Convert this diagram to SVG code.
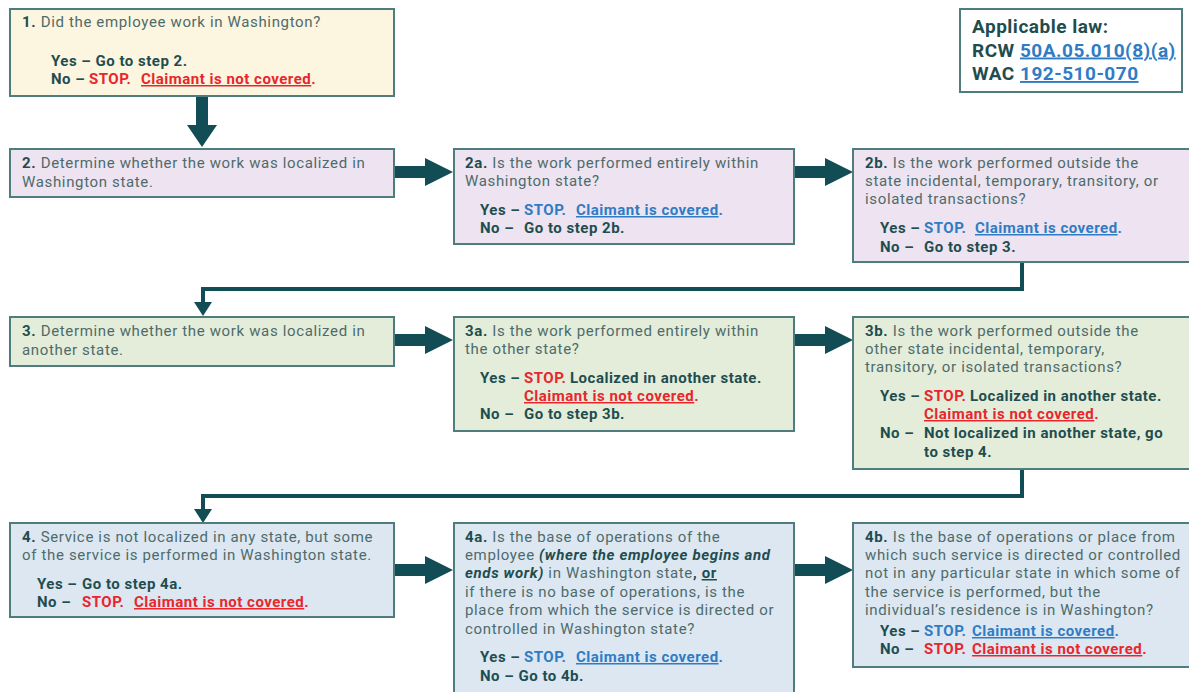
<svg xmlns="http://www.w3.org/2000/svg" width="1189" height="692" viewBox="0 0 1189 692">
<style>
text{font-family:Roboto,"Liberation Sans",sans-serif;font-size:15px;letter-spacing:0.65px;fill:#4e6b6b}
.b{font-weight:bold;fill:#1f4d4f}
.yn{font-weight:bold;letter-spacing:0.5px;fill:#1f4d4f}
.red{font-weight:bold;letter-spacing:0.5px;fill:#e8262d}
.blue{font-weight:bold;letter-spacing:0.5px;fill:#2f7cc4}
.u{text-decoration:underline}
.bi{font-weight:bold;font-style:italic;fill:#1f4d4f}
.box{stroke:#4f7c7c;stroke-width:2}
.y{fill:#fcf5df}.p{fill:#ede3f1}.g{fill:#e3edda}.l{fill:#dce7f2}.w{fill:#ffffff}
.arr{fill:#124c54}
.con{fill:none;stroke:#124c54;stroke-width:4}
.law{font-size:19px;font-weight:bold;letter-spacing:0.5px;fill:#1f4d4f}
.lawl{font-size:19px;font-weight:bold;fill:#2f7cc4;text-decoration:underline}
</style>
<g id="connectors">
<path class="arr" d="M196,96 H208 V125 H217 L202,147 L187,125 H196 Z"/>
<path class="arr" d="M394,166 H425 V158 L453,172 L425,186 V178 H394 Z"/>
<path class="arr" d="M794,166 H825 V158 L853,172 L825,186 V178 H794 Z"/>
<path class="arr" d="M394,334 H425 V326 L453,340 L425,354 V346 H394 Z"/>
<path class="arr" d="M794,334 H825 V326 L853,340 L825,354 V346 H794 Z"/>
<path class="arr" d="M394,564 H425 V556 L453,570 L425,584 V576 H394 Z"/>
<path class="arr" d="M794,564 H825 V556 L853,570 L825,584 V576 H794 Z"/>
<path class="con" d="M1022,262 V289 H203 V302"/>
<path class="arr" d="M194,302 H212 L203,316 Z"/>
<path class="con" d="M1022,469 V496 H203 V509"/>
<path class="arr" d="M194,509 H212 L203,523 Z"/>
</g>
<g id="law">
<rect class="box w" x="960" y="9" width="222" height="83"/>
<text x="972" y="33" class="law">Applicable law:</text>
<text x="972" y="56.5" class="law">RCW <tspan class="lawl">50A.05.010(8)(a)</tspan></text>
<text x="972" y="80" class="law">WAC <tspan class="lawl">192-510-070</tspan></text>
</g>
<g id="step1">
<rect class="box y" x="10" y="9" width="384" height="87"/>
<text x="22" y="27"><tspan class="b">1.</tspan>  Did the employee work in Washington?</text>
<text x="51" y="66" class="yn">Yes – Go to step 2.</text>
<text x="51" y="84" class="yn">No – <tspan x="89" class="red">STOP.</tspan><tspan x="141" class="red u">Claimant is not covered</tspan><tspan class="red">.</tspan></text>
</g>
<g id="step2">
<rect class="box p" x="10" y="149" width="384" height="48"/>
<text x="22" y="168"><tspan class="b">2.</tspan>  Determine whether the work was localized in</text>
<text x="22" y="186.5">Washington state.</text>
</g>
<g id="step2a">
<rect class="box p" x="454" y="149" width="340" height="95"/>
<text x="465" y="168"><tspan class="b">2a.</tspan> Is the work performed entirely within</text>
<text x="465" y="186">Washington state?</text>
<text x="480" y="215" class="yn">Yes – <tspan x="524" class="blue">STOP.</tspan><tspan x="576" class="blue u">Claimant is covered</tspan><tspan class="blue">.</tspan></text>
<text x="480" y="233" class="yn">No – <tspan x="524">Go to step 2b.</tspan></text>
</g>
<g id="step2b">
<rect class="box p" x="853" y="149" width="340" height="113"/>
<text x="865" y="168"><tspan class="b">2b.</tspan>  Is the work performed outside the</text>
<text x="865" y="186">state incidental, temporary, transitory, or</text>
<text x="865" y="204">isolated transactions?</text>
<text x="880" y="233" class="yn">Yes – <tspan x="924" class="blue">STOP.</tspan><tspan x="975" class="blue u">Claimant is covered</tspan><tspan class="blue">.</tspan></text>
<text x="880" y="252" class="yn">No – <tspan x="924">Go to step 3.</tspan></text>
</g>
<g id="step3">
<rect class="box g" x="10" y="317" width="384" height="49"/>
<text x="22" y="336"><tspan class="b">3.</tspan>  Determine whether the work was localized in</text>
<text x="22" y="354.5">another state.</text>
</g>
<g id="step3a">
<rect class="box g" x="454" y="317" width="340" height="114"/>
<text x="465" y="336"><tspan class="b">3a.</tspan>  Is the work performed entirely within</text>
<text x="465" y="354">the other state?</text>
<text x="480" y="383" class="yn">Yes – <tspan x="524" class="red">STOP.</tspan><tspan x="570">Localized in another state.</tspan></text>
<text x="524" y="401" class="red"><tspan class="u">Claimant is not covered</tspan>.</text>
<text x="480" y="419" class="yn">No – <tspan x="524">Go to step 3b.</tspan></text>
</g>
<g id="step3b">
<rect class="box g" x="853" y="317" width="340" height="152"/>
<text x="865" y="336"><tspan class="b">3b.</tspan>  Is the work performed outside the</text>
<text x="865" y="354">other state incidental, temporary,</text>
<text x="865" y="372">transitory, or isolated transactions?</text>
<text x="880" y="401" class="yn">Yes – <tspan x="924" class="red">STOP.</tspan><tspan x="970">Localized in another state.</tspan></text>
<text x="924" y="419" class="red"><tspan class="u">Claimant is not covered</tspan>.</text>
<text x="880" y="438" class="yn">No – <tspan x="924">Not localized in another state, go</tspan></text>
<text x="924" y="457" class="yn">to step 4.</text>
</g>
<g id="step4">
<rect class="box l" x="10" y="523" width="384" height="94"/>
<text x="22" y="542"><tspan class="b">4.</tspan>  Service is not localized in any state, but some</text>
<text x="22" y="560">of the service is performed in Washington state.</text>
<text x="37" y="589" class="yn">Yes – <tspan x="82">Go to step 4a.</tspan></text>
<text x="37" y="607" class="yn">No – <tspan x="82" class="red">STOP.</tspan><tspan x="134" class="red u">Claimant is not covered</tspan><tspan class="red">.</tspan></text>
</g>
<g id="step4a">
<rect class="box l" x="454" y="523" width="340" height="175"/>
<text x="465" y="542"><tspan class="b">4a.</tspan>  Is the base of operations of the</text>
<text x="465" y="560">employee <tspan class="bi">(where the employee begins and</tspan></text>
<text x="465" y="578"><tspan class="bi">ends work)</tspan> in Washington state<tspan class="b">, </tspan><tspan class="b u">or</tspan></text>
<text x="465" y="597">if there is no base of operations, is the</text>
<text x="465" y="615">place from which the service is directed or</text>
<text x="465" y="634">controlled in Washington state?</text>
<text x="480" y="662" class="yn">Yes – <tspan x="524" class="blue">STOP.</tspan><tspan x="576" class="blue u">Claimant is covered</tspan><tspan class="blue">.</tspan></text>
<text x="480" y="681" class="yn">No – Go to 4b.</text>
</g>
<g id="step4b">
<rect class="box l" x="853" y="523" width="340" height="144"/>
<text x="865" y="542"><tspan class="b">4b.</tspan>  Is the base of operations or place from</text>
<text x="865" y="560">which such service is directed or controlled</text>
<text x="865" y="578">not in any particular state in which some of</text>
<text x="865" y="597">the service is performed, but the</text>
<text x="865" y="615">individual’s residence is in Washington?</text>
<text x="880" y="636" class="yn">Yes – <tspan x="924" class="blue">STOP.</tspan><tspan x="972" class="blue u">Claimant is covered</tspan><tspan class="blue">.</tspan></text>
<text x="880" y="654" class="yn">No – <tspan x="924" class="red">STOP.</tspan><tspan x="972" class="red u">Claimant is not covered</tspan><tspan class="red">.</tspan></text>
</g>
</svg>
